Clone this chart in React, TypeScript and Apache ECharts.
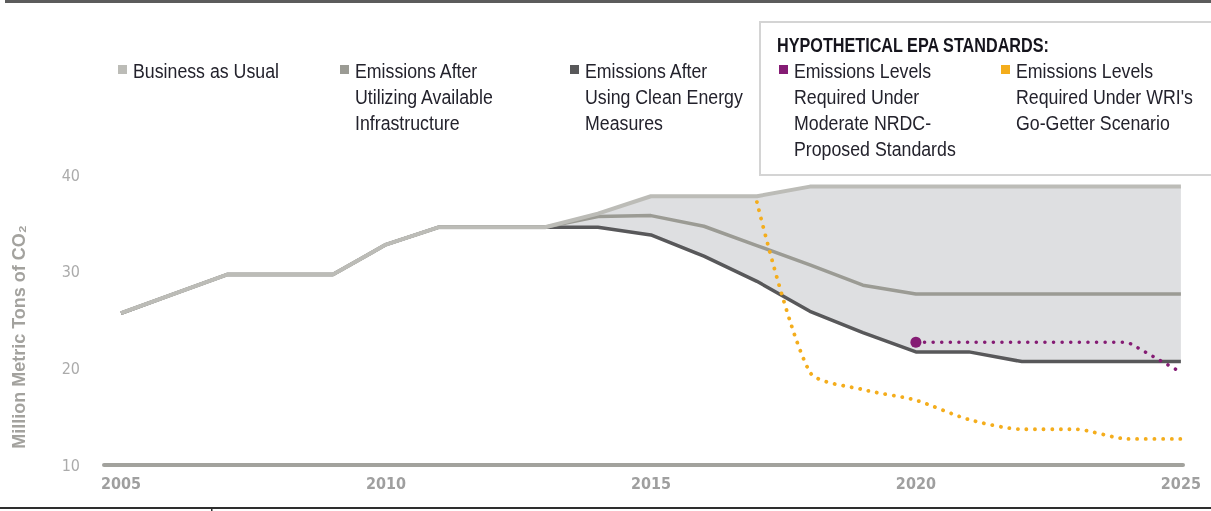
import React, { useEffect, useRef } from "react";
import * as echarts from "echarts";

const years = [2005, 2006, 2007, 2008, 2009, 2010, 2011, 2012, 2013, 2014, 2015, 2016, 2017, 2018, 2019, 2020, 2021, 2022, 2023, 2024, 2025];
const businessAsUsual = [25.7, 27.7, 29.7, 29.7, 29.7, 32.8, 34.6, 34.6, 34.6, 36.0, 37.8, 37.8, 37.8, 38.8, 38.8, 38.8, 38.8, 38.8, 38.8, 38.8, 38.8];
const availableInfrastructure = [25.7, 27.7, 29.7, 29.7, 29.7, 32.8, 34.6, 34.6, 34.6, 35.7, 35.8, 34.7, 32.7, 30.7, 28.6, 27.7, 27.7, 27.7, 27.7, 27.7, 27.7];
const cleanEnergy = [25.7, 27.7, 29.7, 29.7, 29.7, 32.8, 34.6, 34.6, 34.6, 34.6, 33.8, 31.6, 29.0, 25.9, 23.7, 21.7, 21.7, 20.7, 20.7, 20.7, 20.7];
const nrdcStandards = [null, null, null, null, null, null, null, null, null, null, null, null, null, null, null, 22.7, 22.7, 22.7, 22.7, 22.7, 19.6];
const wriGoGetter = [null, null, null, null, null, null, null, null, null, null, null, null, 37.2, 19.6, 17.8, 16.7, 14.7, 13.7, 13.7, 12.7, 12.7];
const xTickLabels = [2005, 2010, 2015, 2020, 2025];
const yTicks = [10, 20, 30, 40];

const C_BAU = "#bcbcb7";
const C_MID = "#9b9b94";
const C_DARK = "#58585a";
const C_PURPLE = "#851c74";
const C_ORANGE = "#f4ad1c";
const C_FILL = "#dedfe1";
const TEXT = "#23222c";
const AXIS_FONT = "'DejaVu Sans Condensed', 'Liberation Sans', sans-serif";
const LEG_FONT = "'Liberation Sans', Arial, sans-serif";

const pairs = (vals: (number | null)[]) =>
  years.map((y, i) => [y, vals[i]] as [number, number | null]).filter((p) => p[1] !== null);

function legendItem(x: number, color: string, lines: string[]) {
  return {
    type: "group",
    children: [
      { type: "rect", shape: { x, y: 65, width: 9, height: 9 }, style: { fill: color } },
      {
        type: "text",
        x: x + 15,
        y: 57,
        scaleX: 0.845,
        style: {
          text: lines.join("\n"),
          font: `21px ${LEG_FONT}`,
          fill: TEXT,
          lineHeight: 26,
          verticalAlign: "top",
        },
      },
    ],
  };
}

export default function App() {
  const ref = useRef<HTMLDivElement>(null);
  useEffect(() => {
    if (!ref.current) return;
    const chart = echarts.init(ref.current, undefined, { renderer: "svg" });
    const nrdcData = pairs(nrdcStandards).map((p, i) =>
      i === 0 ? { value: p, symbol: "circle", symbolSize: 11, itemStyle: { color: C_PURPLE } } : { value: p }
    );
    chart.setOption({
      animation: false,
      grid: { left: 104, right: 28, top: 175, bottom: 46 },
      xAxis: {
        type: "value",
        min: 2004.68,
        max: 2025.04,
        axisLine: { show: true, lineStyle: { color: "#a2a29d", width: 4 } },
        axisTick: { show: false },
        splitLine: { show: false },
        axisLabel: {
          customValues: xTickLabels,
          formatter: (v: number) => String(v),
          color: "#9f9f9f",
          fontWeight: "bold",
          fontSize: 16,
          fontFamily: AXIS_FONT,
          margin: 10,
        },
      },
      yAxis: {
        type: "value",
        min: 10,
        max: 40,
        interval: 10,
        axisLine: { show: false },
        axisTick: { show: false },
        splitLine: { show: false },
        axisLabel: {
          customValues: yTicks,
          color: "#ababab",
          fontSize: 16,
          fontFamily: AXIS_FONT,
          margin: 24,
        },
      },
      series: [
        {
          name: "range",
          type: "custom",
          silent: true,
          z: 1,
          data: [[years[0], businessAsUsual[0]]],
          renderItem: (params: any, api: any) => {
            if (params.dataIndex !== 0) return null;
            const top = years.map((y, i) => api.coord([y, businessAsUsual[i]]));
            const bottom = years.map((y, i) => api.coord([y, cleanEnergy[i]])).reverse();
            return {
              type: "polygon",
              shape: { points: top.concat(bottom) },
              style: { fill: C_FILL, stroke: "none" },
            };
          },
        },
        {
          name: "Emissions After Using Clean Energy Measures",
          type: "line",
          data: pairs(cleanEnergy),
          symbol: "none",
          lineStyle: { color: C_DARK, width: 3.5 },
          z: 2,
        },
        {
          name: "Emissions After Utilizing Available Infrastructure",
          type: "line",
          data: pairs(availableInfrastructure),
          symbol: "none",
          lineStyle: { color: C_MID, width: 3.5 },
          z: 3,
        },
        {
          name: "Business as Usual",
          type: "line",
          data: pairs(businessAsUsual),
          symbol: "none",
          lineStyle: { color: C_BAU, width: 4 },
          z: 4,
        },
        {
          name: "Emissions Levels Required Under WRI's Go-Getter Scenario",
          type: "line",
          data: pairs(wriGoGetter),
          symbol: "none",
          smooth: 0.25,
          lineStyle: { color: C_ORANGE, width: 3.8, type: [0.1, 8.5], cap: "round" },
          z: 5,
        },
        {
          name: "Emissions Levels Required Under Moderate NRDC-Proposed Standards",
          type: "line",
          data: nrdcData,
          symbol: "none",
          showSymbol: true,
          lineStyle: { color: C_PURPLE, width: 3.5, type: [0.1, 8.5], cap: "round" },
          z: 6,
        },
      ],
      graphic: [
        { type: "rect", shape: { x: 5, y: 0, width: 1206, height: 3 }, style: { fill: "#5c5c5c" } },
        { type: "rect", shape: { x: 0, y: 507, width: 1211, height: 2 }, style: { fill: "#2e2e2e" } },
        { type: "rect", shape: { x: 211, y: 507, width: 1.5, height: 4 }, style: { fill: "#2e2e2e" } },
        {
          type: "text",
          x: 19,
          y: 337,
          rotation: Math.PI / 2,
          style: {
            text: "Million Metric Tons of CO₂",
            font: `bold 18px ${LEG_FONT}`,
            fill: "#a3a29e",
            align: "center",
            verticalAlign: "middle",
          },
        },
        legendItem(118, C_BAU, ["Business as Usual"]),
        legendItem(340, C_MID, ["Emissions After", "Utilizing Available", "Infrastructure"]),
        legendItem(570, C_DARK, ["Emissions After", "Using Clean Energy", "Measures"]),
        {
          type: "rect",
          shape: { x: 760, y: 22, width: 470, height: 153 },
          style: { fill: "none", stroke: "#d4d4d4", lineWidth: 2 },
        },
        {
          type: "text",
          x: 777,
          y: 35,
          scaleX: 0.81,
          style: {
            text: "HYPOTHETICAL EPA STANDARDS:",
            font: `bold 20px ${LEG_FONT}`,
            fill: "#15141c",
            verticalAlign: "top",
          },
        },
        legendItem(779, C_PURPLE, ["Emissions Levels", "Required Under", "Moderate NRDC-", "Proposed Standards"]),
        legendItem(1001, C_ORANGE, ["Emissions Levels", "Required Under WRI's", "Go-Getter Scenario"]),
      ],
    });
    return () => chart.dispose();
  }, []);
  return <div ref={ref} style={{ position: "fixed", left: 0, top: 0, width: 1211, height: 511 }} />;
}
